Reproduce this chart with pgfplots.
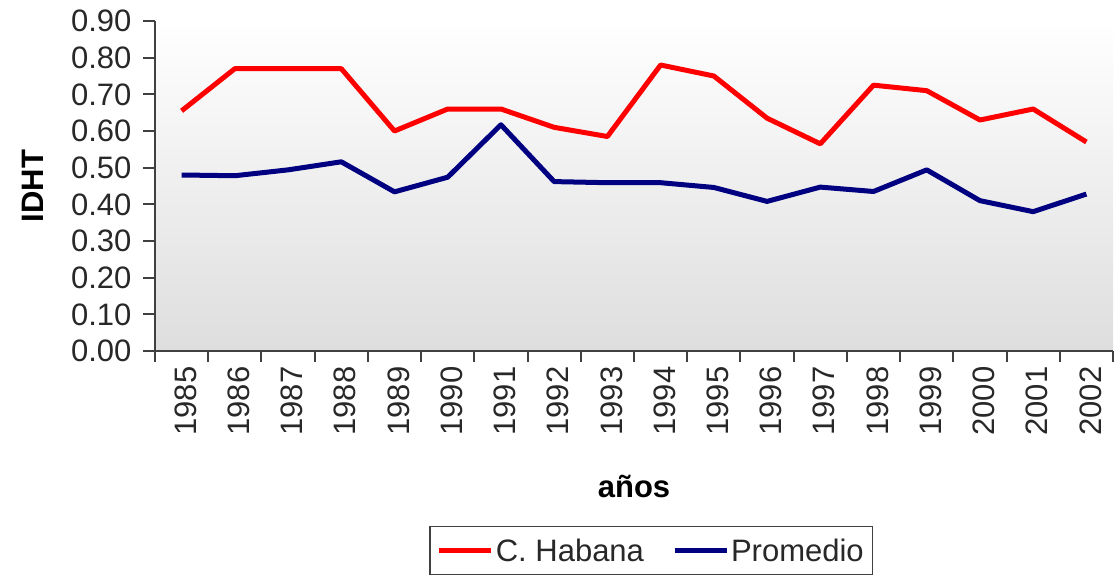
\documentclass[border=0pt]{standalone}
\usepackage{pgfplots}
\pgfplotsset{compat=1.18}
\usepackage{fontspec}
\setmainfont{Liberation Sans}
\definecolor{habana}{RGB}{255,0,0}
\definecolor{prom}{RGB}{0,0,128}
\definecolor{axgray}{RGB}{64,64,64}
\definecolor{txtgray}{RGB}{40,40,40}
\begin{document}
\begin{tikzpicture}
\useasboundingbox (0,0) rectangle (1115pt,580pt);
\begin{axis}[
  at={(155pt,229pt)}, anchor=south west,
  scale only axis, width=958pt, height=330pt,
  xmin=-0.5, xmax=17.5, ymin=0, ymax=0.9,
  axis x line*=bottom, axis y line*=left,
  axis line style={axgray, line width=2.5pt, -},
  axis background/.style={shade, top color=white, bottom color=gray!26},
  xtick={0,...,17},
  xticklabels={1985,1986,1987,1988,1989,1990,1991,1992,1993,1994,1995,1996,1997,1998,1999,2000,2001,2002},
  minor xtick={-0.5,0.5,...,17.5},
  ytick={0,0.1,0.2,0.3,0.4,0.5,0.6,0.7,0.8,0.9},
  tick align=outside,
  major tick length=12pt, minor tick length=11pt,
  every tick/.style={axgray, line width=2pt},
  major x tick style={draw=none},
  /pgf/number format/assume math mode=true,
  tick label style={font=\fontsize{31}{36}\selectfont, color=txtgray},
  yticklabel style={xshift=-8pt, /pgf/number format/.cd, fixed, fixed zerofill, precision=2},
  xticklabel style={rotate=90, anchor=east, yshift=-4pt},
  xlabel={años},
  xlabel style={font=\bfseries\fontsize{31}{36}\selectfont, at={(axis description cs:0.5,-0.412)}, anchor=center},
  ylabel={IDHT},
  ylabel style={font=\bfseries\fontsize{31}{36}\selectfont, at={(axis description cs:-0.127,0.5)}, anchor=center},
  legend style={at={(axis description cs:0.518,-0.530)}, anchor=north, legend columns=2,
    draw=axgray, line width=1.5pt, font=\fontsize{31}{36}\selectfont, text=txtgray,
    inner xsep=7pt, inner ysep=10pt, /tikz/every even column/.append style={column sep=26pt}},
  legend image code/.code={\draw[#1, line width=5pt] (0pt,0pt) -- (52pt,0pt);},
]
\addplot[habana, line width=5pt, line join=round] coordinates {
(0,0.655) (1,0.77) (2,0.77) (3,0.77) (4,0.60) (5,0.66) (6,0.66) (7,0.61) (8,0.585)
(9,0.78) (10,0.75) (11,0.635) (12,0.565) (13,0.725) (14,0.71) (15,0.63) (16,0.66) (17,0.57)};
\addlegendentry{C. Habana}
\addplot[prom, line width=5pt, line join=round] coordinates {
(0,0.48) (1,0.478) (2,0.494) (3,0.516) (4,0.434) (5,0.474) (6,0.617) (7,0.462) (8,0.459)
(9,0.459) (10,0.446) (11,0.408) (12,0.447) (13,0.435) (14,0.494) (15,0.41) (16,0.38) (17,0.428)};
\addlegendentry{Promedio}
\end{axis}
\end{tikzpicture}
\end{document}
